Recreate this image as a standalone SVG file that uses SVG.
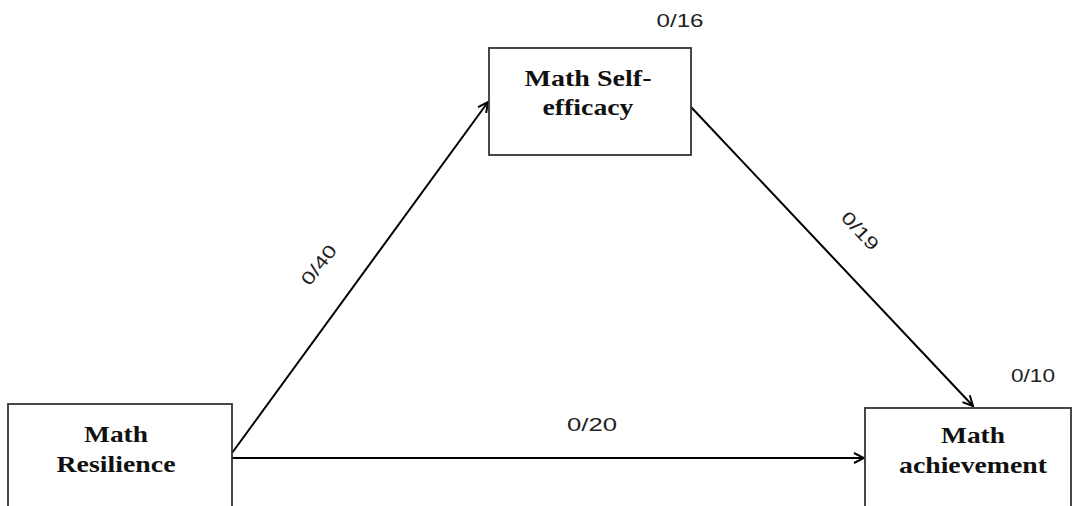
<svg xmlns="http://www.w3.org/2000/svg" width="1073" height="506" viewBox="0 0 1073 506">
<style>
.box{fill:#fff;stroke:#333;stroke-width:1.8}
.nt{font-family:"Liberation Serif",serif;font-weight:bold;font-size:24px;fill:#111;text-anchor:middle}
.lb{font-family:"Liberation Sans",sans-serif;font-size:18px;fill:#222;text-anchor:middle}
.cn{stroke:#000;stroke-width:2;fill:none}
</style>
<defs>
<marker id="ah" viewBox="0 0 12 12" refX="11" refY="6" markerWidth="12" markerHeight="12" markerUnits="userSpaceOnUse" orient="auto">
<polyline points="1,1 11,6 1,11" fill="none" stroke="#000" stroke-width="2"/>
</marker>
</defs>
<rect width="1073" height="506" fill="#fff"/>
<g id="connectors">
<line class="cn" x1="232" y1="453" x2="488" y2="102" marker-end="url(#ah)"/>
<line class="cn" x1="691" y1="107" x2="973" y2="406" marker-end="url(#ah)"/>
<line class="cn" x1="232" y1="458" x2="864" y2="458" marker-end="url(#ah)"/>
</g>
<g id="self-efficacy">
<rect class="box" x="489" y="48" width="202" height="107"/>
<text class="nt" x="588" y="86" textLength="127" lengthAdjust="spacingAndGlyphs">Math Self-</text>
<text class="nt" x="588" y="115" textLength="91" lengthAdjust="spacingAndGlyphs">efficacy</text>
<text class="lb" x="680" y="27" textLength="47" lengthAdjust="spacingAndGlyphs">0/16</text>
</g>
<g id="resilience">
<rect class="box" x="8" y="404" width="224" height="120"/>
<text class="nt" x="116" y="442" textLength="64" lengthAdjust="spacingAndGlyphs">Math</text>
<text class="nt" x="116" y="472" textLength="119" lengthAdjust="spacingAndGlyphs">Resilience</text>
</g>
<g id="achievement">
<rect class="box" x="865" y="408" width="206" height="120"/>
<text class="nt" x="973" y="443" textLength="64" lengthAdjust="spacingAndGlyphs">Math</text>
<text class="nt" x="973" y="473" textLength="148" lengthAdjust="spacingAndGlyphs">achievement</text>
<text class="lb" x="1033" y="382" textLength="44" lengthAdjust="spacingAndGlyphs">0/10</text>
</g>
<g id="labels">
<text class="lb" transform="translate(319,265) rotate(-52)" y="6" textLength="46" lengthAdjust="spacingAndGlyphs">0/40</text>
<text class="lb" transform="translate(860,231) rotate(47)" y="6" textLength="46" lengthAdjust="spacingAndGlyphs">0/19</text>
<text class="lb" x="592" y="431" textLength="50" lengthAdjust="spacingAndGlyphs">0/20</text>
</g>
</svg>
